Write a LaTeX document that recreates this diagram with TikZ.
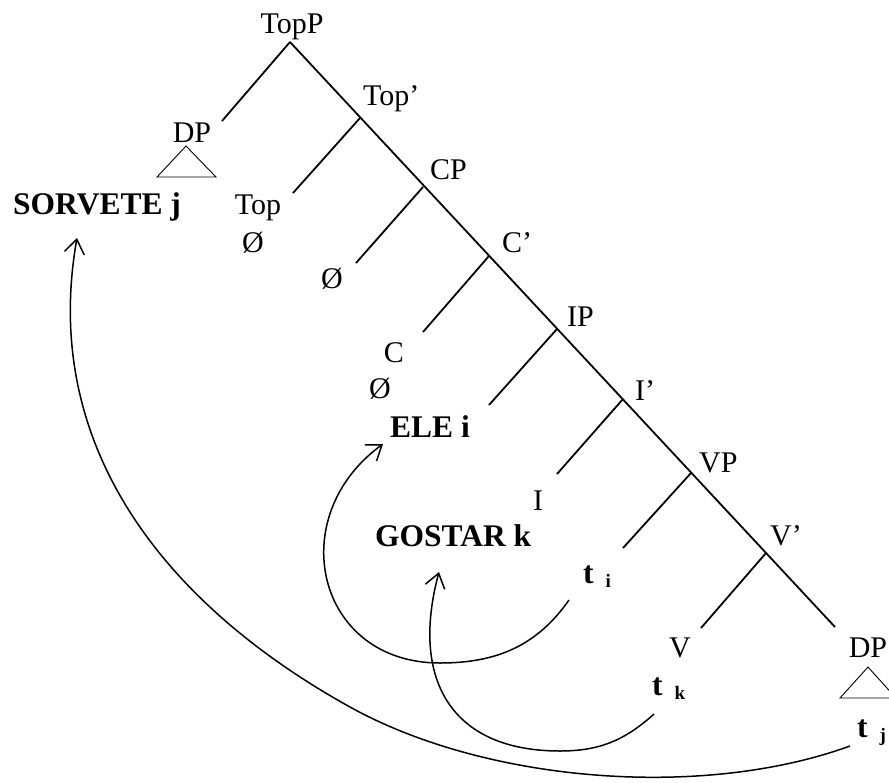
\documentclass[tikz,border=0pt]{standalone}
\usepackage{fontspec}
\setmainfont{Liberation Serif}
\usetikzlibrary{arrows.meta,calc}
\newcommand{\trc}[1]{t\hspace{12pt}\raisebox{-4pt}{\fontsize{19}{19}\selectfont #1}}
\tikzset{
  lbl/.style={inner sep=0pt,anchor=base west,font=\fontsize{30}{36}\selectfont},
  lex/.style={lbl,font=\fontsize{31.5}{36}\selectfont\bfseries},
  branch/.style={line width=1.8pt},
  roof/.style={line width=0.9pt},
  move/.style={line width=1.5pt,-{Straight Barb[length=14pt,width=20pt]}}
}

\begin{document}
\begin{tikzpicture}[x=1pt,y=1pt]
  \useasboundingbox (0,0) rectangle (889,-782);
  % branch points on the spine
  \coordinate (v0) at (290,-42);
  \coordinate (v1) at (360,-118);
  \coordinate (v2) at (423,-187);
  \coordinate (v3) at (489,-256);
  \coordinate (v4) at (557,-329);
  \coordinate (v5) at (623,-399);
  \coordinate (v6) at (691,-473);
  \coordinate (v7) at (766,-553);
  \coordinate (vend) at (835,-627);
  % left daughters
  \coordinate (e0) at (222,-121);
  \coordinate (e1) at (293,-193);
  \coordinate (e2) at (356,-263);
  \coordinate (e3) at (423,-332);
  \coordinate (e4) at (489,-405);
  \coordinate (e5) at (557,-474);
  \coordinate (e6) at (623,-548);
  \coordinate (e7) at (701,-628);
  \draw[branch] (v0) -- (vend);
  \foreach \p/\q in {v0/e0,v1/e1,v2/e2,v3/e3,v4/e4,v5/e5,v6/e6,v7/e7}
    \draw[branch] (\p) -- (\q);

  % category labels
  \node[lbl,anchor=base] (topp) at (292,-33) {TopP};
  \node[lbl] (topbar) at (363,-105) {Top'};
  \node[lbl] (cp) at (430,-179) {CP};
  \node[lbl] (cbar) at (502,-252) {C'};
  \node[lbl] (ip) at (567,-326) {IP};
  \node[lbl] (ibar) at (635,-400) {I'};
  \node[lbl] (vp) at (699,-472) {VP};
  \node[lbl] (vbar) at (770,-545) {V'};
  \node[lbl,anchor=base] (dpl) at (192,-142) {DP};
  \node[lbl,anchor=base] (top) at (258,-214) {Top};
  \node[lbl,anchor=base] (topnull) at (253,-252) {Ø};
  \node[lbl,anchor=base] (specnull) at (332,-288) {Ø};
  \node[lbl,anchor=base] (c) at (394,-362) {C};
  \node[lbl,anchor=base] (cnull) at (380,-398) {Ø};
  \node[lbl,anchor=base] (infl) at (538,-510) {I};
  \node[lbl,anchor=base] (v) at (680,-657) {V};
  \node[lbl,anchor=base] (dpr) at (868,-657) {DP};

  % lexical items and traces
  \node[lex] (sorvete) at (13,-214) {SORVETE j};
  \node[lex] (ele) at (390,-437) {ELE i};
  \node[lex] (gostar) at (375,-546) {GOSTAR k};
  \node[lex] (ti) at (583,-583) {\trc{i}};
  \node[lex] (tk) at (652,-695) {\trc{k}};
  \node[lex] (tj) at (857,-737) {\trc{j}};

  % roofs
  \draw[roof] (186,-146) -- (157,-177) -- (216,-177) -- cycle;
  \draw[roof] (868,-667) -- (840,-698) -- (896,-698) -- cycle;

  % movement arrows
  \coordinate (ti-out) at (569,-600);
  \coordinate (ele-in) at (383,-444);
  \coordinate (m1) at (440,-663);
  \coordinate (tk-out) at (654,-714);
  \coordinate (gostar-in) at (439,-572);
  \coordinate (m2) at (560,-751);
  \coordinate (tj-out) at (850,-746);
  \coordinate (sorvete-in) at (77,-238);
  \coordinate (m3) at (350,-707);
  \draw[move] (ti-out) to[out=235,in=0] (m1) to[out=180,in=216,looseness=1.4] (ele-in);
  \draw[move] (tk-out) to[out=222,in=0] (m2) to[out=180,in=-105,looseness=1.3] (gostar-in);
  \draw[move] (tj-out) to[out=200,in=-29,looseness=0.8] (m3) to[out=151,in=-100] (sorvete-in);
\end{tikzpicture}
\end{document}
